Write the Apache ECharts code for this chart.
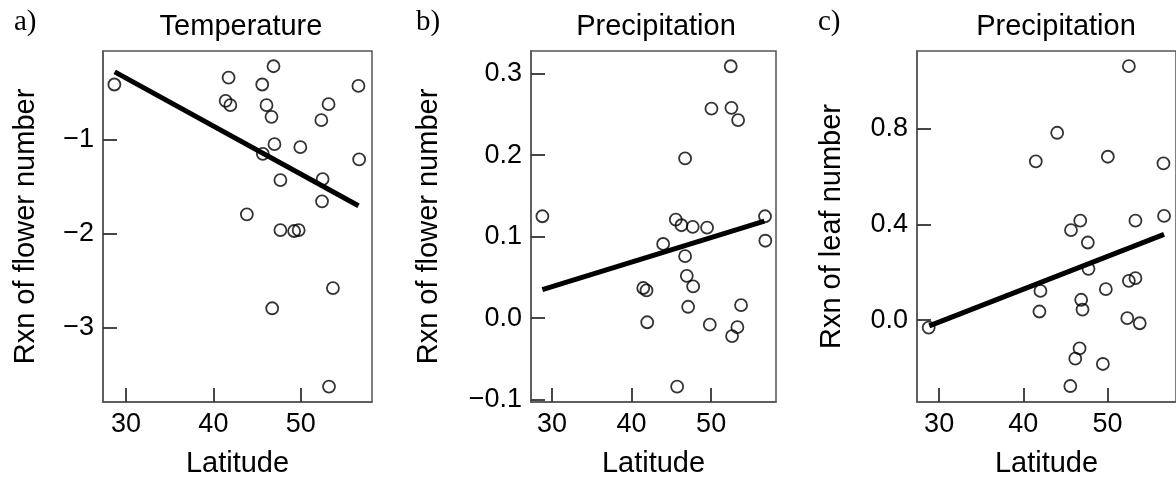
<!DOCTYPE html>
<html>
<head>
<meta charset="utf-8">
<script src="https://cdn.jsdelivr.net/npm/echarts@6/dist/echarts.min.js"></script>
<style>
html,body{margin:0;padding:0;background:#fff;}
#chart{width:1176px;height:483px;}
</style>
</head>
<body>
<div id="chart"></div>
<script>
// ---- Data ----
// Panel a: Temperature, reaction of flower number vs latitude
const latA  = [28.67,46.88,41.74,45.59,56.60,41.40,41.94,46.08,53.18,46.65,52.35,46.99,49.95,45.66,56.68,47.67,52.50,52.43,43.83,47.67,49.24,49.76,53.68,46.73,53.23];
const flowerTemp = [-0.416,-0.222,-0.342,-0.416,-0.431,-0.590,-0.636,-0.636,-0.625,-0.760,-0.795,-1.050,-1.082,-1.153,-1.212,-1.432,-1.421,-1.658,-1.796,-1.963,-1.973,-1.963,-2.579,-2.794,-3.626];
const fitLatA = [28.71, 56.60];
const fitA    = [-0.282, -1.705];

// Panel b: Precipitation, reaction of flower number vs latitude
const latB  = [28.80,52.46,50.04,52.55,53.39,46.73,45.56,46.27,47.69,49.49,56.77,43.97,56.81,46.73,46.94,47.74,41.47,41.88,47.11,53.76,41.97,49.83,53.30,52.63,45.73];
const flowerPrecip = [0.125,0.309,0.257,0.258,0.243,0.196,0.121,0.114,0.112,0.111,0.125,0.091,0.095,0.076,0.052,0.039,0.037,0.034,0.014,0.016,-0.005,-0.008,-0.011,-0.022,-0.084];
const fitLatB = [28.80, 56.69];
const fitB    = [0.035, 0.119];

// Panel c: Precipitation, reaction of leaf number vs latitude
const latC  = [28.76,52.55,44.03,41.49,50.05,56.66,56.73,46.77,45.67,53.33,47.67,47.75,53.33,52.55,42.04,49.81,46.88,47.04,41.92,52.36,53.84,46.69,46.18,49.46,45.59];
const leafPrecip = [-0.031,1.060,0.782,0.663,0.682,0.654,0.435,0.415,0.376,0.415,0.324,0.214,0.175,0.164,0.122,0.129,0.085,0.044,0.036,0.008,-0.013,-0.118,-0.161,-0.183,-0.275];
const fitLatC = [28.83, 56.73];
const fitC    = [-0.024, 0.358];

// Tick values
const xTicks  = [30, 40, 50];
const yTicksA = [-3, -2, -1];
const yTicksB = [-0.1, 0.0, 0.1, 0.2, 0.3];
const yTicksC = [0.0, 0.4, 0.8];

const panelLetters = ['a)', 'b)', 'c)'];
const panelTitles  = ['Temperature', 'Precipitation', 'Precipitation'];
const yNames = ['Rxn of flower number', 'Rxn of flower number', 'Rxn of leaf number'];
const xName = 'Latitude';

// ---- Chart ----
const FONT = '"Liberation Sans", Arial, Helvetica, sans-serif';
const FRAME = '#555';
const TICK = '#333';
const zip = (a, b) => a.map((v, i) => [v, b[i]]);
const minus = s => s.replace('-', '\u2212');

const grids = [
  {left: 103, top: 51, width: 269, height: 351},
  {left: 531, top: 51, width: 245, height: 351},
  {left: 917, top: 51, width: 262, height: 351}
];
const yRanges = [[-3.79, -0.06], [-0.1028, 0.3277], [-0.3417, 1.1233]];
const yTickSets = [yTicksA, yTicksB, yTicksC];
const yFmt = [v => minus(String(Math.round(v))), v => minus(v.toFixed(1)), v => minus(v.toFixed(1))];
const yNameGaps = [63, 88, 71];
const titleCenters = [241, 656, 1056];
const letterLefts = [14, 416, 818];

const option = {
  animation: false,
  backgroundColor: '#fff',
  grid: grids.map(g => Object.assign({show: true, borderColor: FRAME, borderWidth: 1.5, backgroundColor: 'transparent', containLabel: false}, g)),
  title: panelTitles.map((t, i) => ({
    text: t, left: titleCenters[i], top: 12, textAlign: 'center', padding: 0,
    textStyle: {fontFamily: FONT, fontSize: 29, fontWeight: 'normal', color: '#000'}
  })),
  graphic: panelLetters.map((t, i) => ({
    type: 'text', left: letterLefts[i], top: 8,
    style: {text: t, font: '29px "Liberation Serif", "Times New Roman", serif', fill: '#000'}
  })),
  xAxis: grids.map((g, i) => ({
    gridIndex: i, type: 'value', min: 27.37, max: 58.15, position: 'bottom',
    splitLine: {show: false},
    axisLine: {show: true, onZero: false, lineStyle: {color: FRAME, width: 1.5}},
    axisTick: {show: true, inside: true, length: 14, customValues: xTicks, lineStyle: {color: TICK, width: 1.8}},
    axisLabel: {customValues: xTicks, margin: 9, fontFamily: FONT, fontSize: 27, color: '#000'},
    name: xName, nameLocation: 'middle', nameGap: 47,
    nameTextStyle: {fontFamily: FONT, fontSize: 29, color: '#000'}
  })),
  yAxis: grids.map((g, i) => ({
    gridIndex: i, type: 'value', min: yRanges[i][0], max: yRanges[i][1], position: 'left',
    splitLine: {show: false},
    axisLine: {show: true, onZero: false, lineStyle: {color: FRAME, width: 1.5}},
    axisTick: {show: true, inside: true, length: 14, customValues: yTickSets[i], lineStyle: {color: TICK, width: 1.8}},
    axisLabel: {customValues: yTickSets[i], formatter: yFmt[i], margin: 9, fontFamily: FONT, fontSize: 27, color: '#000'},
    name: yNames[i], nameLocation: 'middle', nameGap: yNameGaps[i], nameRotate: 90,
    nameTextStyle: {fontFamily: FONT, fontSize: 29, color: '#000'}
  })),
  series: [
    [latA, flowerTemp, fitLatA, fitA],
    [latB, flowerPrecip, fitLatB, fitB],
    [latC, leafPrecip, fitLatC, fitC]
  ].flatMap((d, i) => [
    {
      type: 'scatter', xAxisIndex: i, yAxisIndex: i, data: zip(d[0], d[1]),
      symbol: 'circle', symbolSize: 12, z: 2,
      itemStyle: {color: 'rgba(0,0,0,0)', borderColor: '#000', borderWidth: 1.8}
    },
    {
      type: 'line', xAxisIndex: i, yAxisIndex: i, data: zip(d[2], d[3]),
      symbol: 'none', z: 3,
      lineStyle: {color: '#000', width: 5, cap: 'butt'}
    }
  ])
};

const chart = echarts.init(document.getElementById('chart'), null, {renderer: 'canvas'});
chart.setOption(option);
</script>
</body>
</html>
